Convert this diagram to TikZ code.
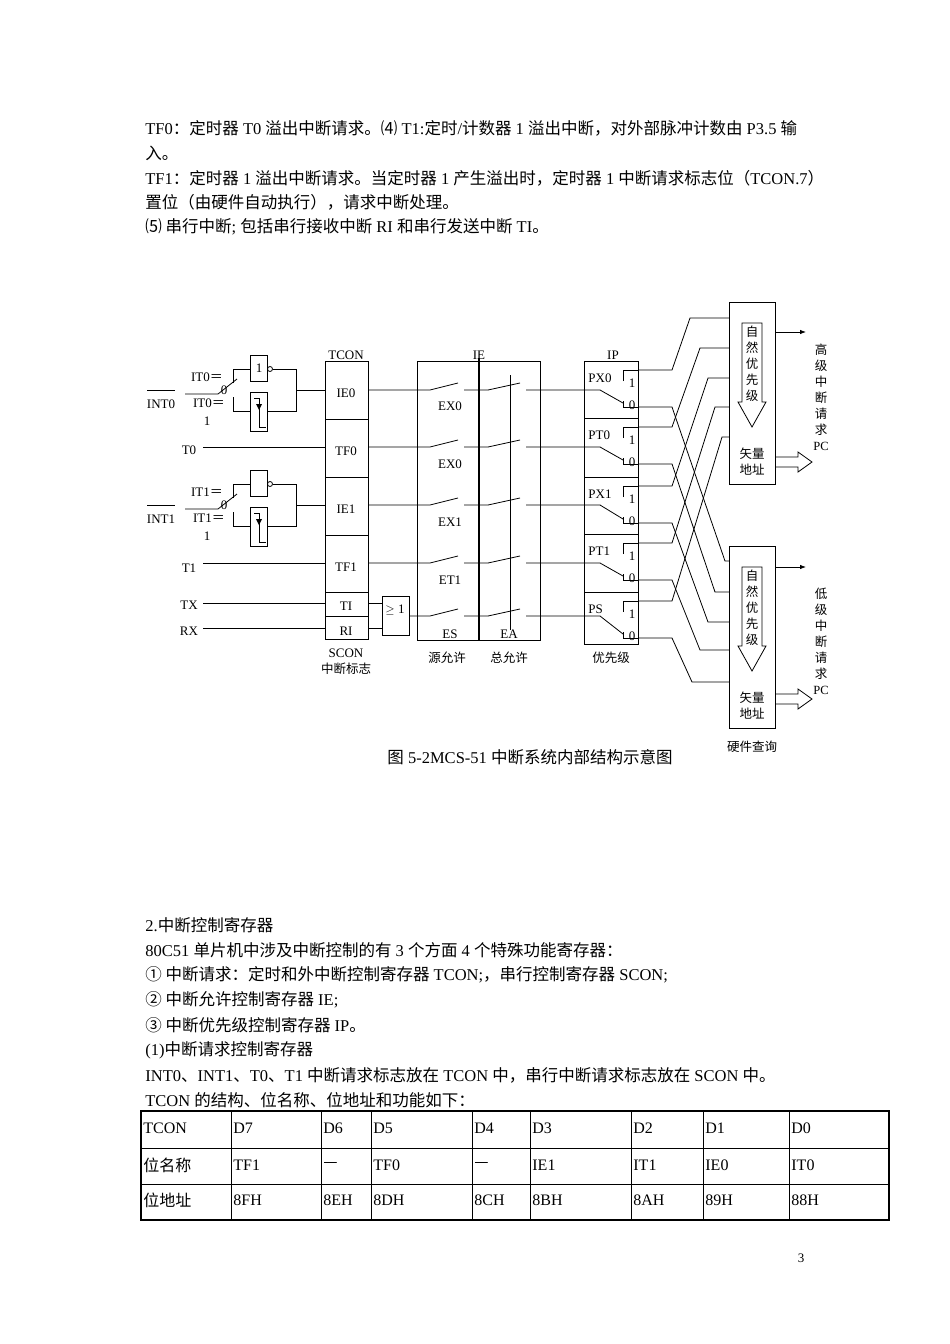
\documentclass[tikz,border=0pt]{standalone}
\usepackage{fontspec}
\setmainfont{Liberation Serif}
\newfontfamily\cjk{Noto Sans CJK SC}
\newcommand\zh[1]{{\cjk #1}}
\usetikzlibrary{arrows.meta}
\begin{document}
\begin{tikzpicture}[x=1pt,y=-1pt,line width=0.8pt,
  body/.style={anchor=west,inner sep=0,font=\fontsize{16.5}{18}\selectfont},
  lab/.style={inner sep=0,font=\fontsize{13}{14}\selectfont},
  clab/.style={inner sep=0,font=\cjk\fontsize{12.5}{14}\selectfont},
  vlab/.style={inner sep=0,align=center,font=\cjk\fontsize{12.5}{16}\selectfont},
  cell/.style={anchor=west,inner sep=0,font=\fontsize{16}{18}\selectfont}]
\fill[white] (0,0) rectangle (950,1344);
\useasboundingbox (0,0) rectangle (950,1344);
% ---- top text
\node[body] (t1) at (145,128) {TF0\zh{：定时器} T0 \zh{溢出中断请求。⑷} T1:\zh{定时}/\zh{计数器} 1 \zh{溢出中断，对外部脉冲计数由} P3.5 \zh{输}};
\node[body] (t2) at (145,153) {\zh{入。}};
\node[body] (t3) at (145,178) {TF1\zh{：定时器} 1 \zh{溢出中断请求。当定时器} 1 \zh{产生溢出时，定时器} 1 \zh{中断请求标志位（}TCON.7\zh{）}};
\node[body] (t4) at (145,202) {\zh{置位（由硬件自动执行），请求中断处理。}};
\node[body] (t5) at (145,227) {\zh{⑸ 串行中断}; \zh{包括串行接收中断} RI \zh{和串行发送中断} TI\zh{。}};
% ---- INT circuits
\foreach \dy/\n in {0/0,115/1}{
  \draw (147,390+\dy)--(175,390+\dy);
  \node[lab] at (161,404+\dy) {INT\n};
  \draw (185,394+\dy)--(218,394+\dy)--(237,379+\dy);
  \draw (233,383+\dy)--(233,369+\dy)--(250,369+\dy);
  \draw (233,397+\dy)--(233,411+\dy)--(250,411+\dy);
  \draw (250,355+\dy) rectangle (267,381+\dy);
  \draw (270,369+\dy) circle (2.5);
  \draw (272.5,369+\dy)--(296,369+\dy)--(296,411+\dy)--(267,411+\dy);
  \draw (296,390+\dy)--(325,390+\dy);
  \draw (250,392+\dy) rectangle (267,431+\dy);
  \draw (254,398+\dy)--(259,398+\dy)--(259,427+\dy)--(266,427+\dy);
  \fill (256,404+\dy)--(262,404+\dy)--(259,410+\dy)--cycle;
  \node[lab] at (207,377+\dy) {IT\n\zh{＝}};
  \node[lab] at (224,390+\dy) {0};
  \node[lab] at (209,403+\dy) {IT\n\zh{＝}};
  \node[lab] at (207,421+\dy) {1};
}
\node[lab] at (259,368) {1};
% inputs
\node[lab] (T0) at (189,450) {T0};
\node[lab] (T1) at (189,568) {T1};
\node[lab] (TX) at (189,605) {TX};
\node[lab] (RX) at (189,631) {RX};
\draw (203,447)--(325,447);
\draw (203,563)--(325,563);
\draw (203,603)--(325,603);
\draw (203,628)--(325,628);
% TCON
\draw (325,361) rectangle (368,639);
\foreach \y in {419,477,535,592,616} \draw (325,\y)--(368,\y);
\node[lab] at (346,355) {TCON};
\node[lab] at (346,393) {IE0};
\node[lab] at (346,451) {TF0};
\node[lab] at (346,509) {IE1};
\node[lab] at (346,567) {TF1};
\node[lab] at (346,606) {TI};
\node[lab] at (346,631) {RI};
\node[lab] at (346,653) {SCON};
\node[clab] at (346,669) {中断标志};
% OR gate
\draw (382,596) rectangle (409,635);
\node[lab] at (395,610) {$\geq$ 1};
\draw (368,603)--(382,603);
\draw (368,628)--(382,628);
% IE
\draw (417,361) rectangle (540,640);
\draw[line width=2pt] (479,358)--(479,640);
\draw (510,375)--(510,630);
\node[lab] at (479,355) {IE};
\foreach \y/\s in {390/368,447/368,505/368,563/368,616/409}{
  \draw (\s,\y)--(430,\y) (430,\y)--(458,\y-7) (464,\y)--(488,\y) (488,\y)--(520,\y-7) (526,\y)--(600,\y);
}
\node[lab] at (450,406) {EX0};
\node[lab] at (450,464) {EX0};
\node[lab] at (450,522) {EX1};
\node[lab] at (450,580) {ET1};
\node[lab] at (450,634) {ES};
\node[lab] at (509,634) {EA};
\node[clab] at (447,658) {源允许};
\node[clab] at (509,658) {总允许};
% IP
\draw (584,361) rectangle (638,644);
\node[lab] at (613,355) {IP};
\node[clab] at (611,658) {优先级};
\foreach \t/\y/\nm in {361/390/PX0,418/447/PT0,477/505/PX1,534/563/PT1,592/616/PS}{
  \draw (584,\t)--(638,\t);
  \node[lab,anchor=west] at (588,\t+17) {\nm};
  \draw (600,\y)--(623,\t+42);
  \draw (623,\t+20)--(623,\t+9)--(638,\t+9);
  \draw (623,\t+40)--(623,\t+46)--(638,\t+46);
  \node[lab] at (632,\t+22) {1};
  \node[lab] at (632,\t+44) {0};
}
% output wiring
\foreach \a/\b/\xb in {370/318/690,427/348/700,486/378/708,543/407/715,601/437/722}
  \draw (638,\a)--(672,\a)--(\xb,\b)--(729,\b);
\foreach \a/\b/\xb in {407/561/725,464/592/715,523/622/708,580/650/700,638/682/692}
  \draw (638,\a)--(672,\a)--(\xb,\b)--(729,\b);
% right boxes
\foreach \t/\b/\ao/\ad/\lab in {302/484/332/462/高,546/728/567/699/低}{
  \draw (729,\t) rectangle (775,\b);
  \draw (742,\t+21)--(742,\t+100)--(738,\t+100)--(752,\t+125)--(766,\t+100)--(762,\t+100)--(762,\t+21)--cycle;
  \node[vlab] at (752,\t+62) {自\\然\\优\\先\\级};
  \node[vlab] at (752,\t+160) {矢量\\地址};
  \draw[-{Latex[length=6pt]}] (775,\ao)--(806,\ao);
  \draw (775,\ad-5)--(798,\ad-5)--(798,\ad-10)--(812,\ad)--(798,\ad+10)--(798,\ad+5)--(775,\ad+5);
  \node[vlab] at (821,\t+95) {\lab\\级\\中\\断\\请\\求\\{\rmfamily PC}};
}
\node[clab] at (752,747) {硬件查询};
\node[body,anchor=center] (cap) at (530,757) {\zh{图} 5-2MCS-51 \zh{中断系统内部结构示意图}};
% ---- lower text
\node[body] at (145,925) {2.\zh{中断控制寄存器}};
\node[body] at (145,950) {80C51 \zh{单片机中涉及中断控制的有} 3 \zh{个方面} 4 \zh{个特殊功能寄存器：}};
\node[body] at (145,975) {\zh{① 中断请求：定时和外中断控制寄存器} TCON;\zh{，串行控制寄存器} SCON;};
\node[body] at (145,1000) {\zh{② 中断允许控制寄存器} IE;};
\node[body] at (145,1025) {\zh{③ 中断优先级控制寄存器} IP\zh{。}};
\node[body] at (145,1050) {(1)\zh{中断请求控制寄存器}};
\node[body] at (145,1075) {INT0\zh{、}INT1\zh{、}T0\zh{、}T1 \zh{中断请求标志放在} TCON \zh{中，串行中断请求标志放在} SCON \zh{中。}};
\node[body] at (145,1100) {TCON \zh{的结构、位名称、位地址和功能如下：}};
% table
\draw[line width=1.2pt] (141,1111) rectangle (889,1220);
\draw (141,1148)--(889,1148) (141,1184)--(889,1184);
\foreach \x in {231,321,371,472,530,631,703,789} \draw (\x,1111)--(\x,1220);
\foreach \x/\a/\b/\c in {141/TCON/\zh{位名称}/\zh{位地址},231/D7/TF1/8FH,321/D6/\zh{—}/8EH,371/D5/TF0/8DH,472/D4/\zh{—}/8CH,530/D3/IE1/8BH,631/D2/IT1/8AH,703/D1/IE0/89H,789/D0/IT0/88H}{
  \node[cell] at (\x+2,1128) {\a};
  \node[cell] at (\x+2,1165) {\b};
  \node[cell] at (\x+2,1200) {\c};
}
\node[lab] at (801,1258) {3};
\end{tikzpicture}
\end{document}
